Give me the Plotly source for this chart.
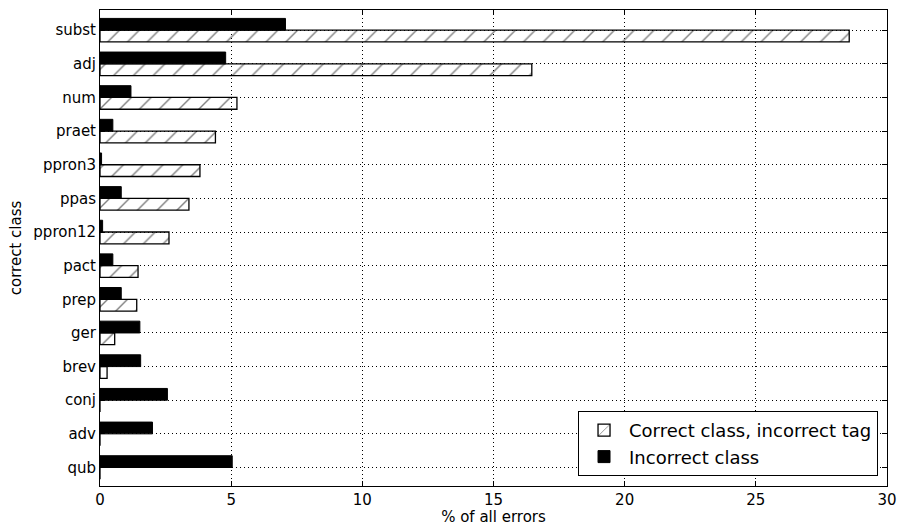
import plotly.graph_objects as go

categories = ["subst", "adj", "num", "praet", "ppron3", "ppas", "ppron12",
              "pact", "prep", "ger", "brev", "conj", "adv", "qub"]
correct_class_incorrect_tag = [28.56, 16.46, 5.22, 4.40, 3.81, 3.39, 2.63,
                               1.45, 1.40, 0.56, 0.27, 0.0, 0.0, 0.0]
incorrect_class = [7.07, 4.79, 1.18, 0.49, 0.06, 0.81, 0.10,
                   0.49, 0.81, 1.52, 1.55, 2.57, 2.00, 5.04]
x_ticks = [0, 5, 10, 15, 20, 25, 30]

fig = go.Figure()
fig.add_trace(go.Bar(
    y=categories, x=incorrect_class, orientation="h",
    name="Incorrect class", legendrank=2,
    marker=dict(color="black", line=dict(color="black", width=1)),
))
fig.add_trace(go.Bar(
    y=categories, x=correct_class_incorrect_tag, orientation="h",
    name="Correct class, incorrect tag", legendrank=1,
    marker=dict(color="white", line=dict(color="black", width=1.3),
                pattern=dict(shape="/", fgcolor="black", bgcolor="rgba(255,255,255,0)",
                             size=14, solidity=0.1)),
))

axis_common = dict(
    showline=True, linecolor="black", linewidth=1, mirror="allticks",
    ticks="inside", ticklen=5, tickcolor="black",
    showgrid=True, gridcolor="black", griddash="1px,3px", gridwidth=1,
    zeroline=False, automargin=False,
    tickfont=dict(family="DejaVu Sans", size=15, color="black"),
)

fig.update_layout(
    width=899, height=526,
    margin=dict(l=100, r=12, t=10, b=40),
    paper_bgcolor="white", plot_bgcolor="white",
    barmode="group", bargap=0.3, bargroupgap=0,
    font=dict(family="DejaVu Sans", size=15, color="black"),
    xaxis=dict(range=[0, 30], tickvals=x_ticks,
               title=dict(text="% of all errors", standoff=4,
                          font=dict(family="DejaVu Sans", size=15)),
               **axis_common),
    yaxis=dict(range=[13.55, -0.6], type="category",
               categoryorder="array", categoryarray=categories,
               title=dict(text="correct class", standoff=8,
                          font=dict(family="DejaVu Sans", size=15)),
               **axis_common),
    legend=dict(x=0.9886, y=0.021, xanchor="right", yanchor="bottom",
                bgcolor="white", bordercolor="black", borderwidth=1,
                font=dict(family="DejaVu Sans", size=18, color="black"),
                itemwidth=40, traceorder="normal"),
    showlegend=True,
)

fig.write_html("out.html",
               config={"displayModeBar": False},
               post_script="document.body.style.margin='0';document.body.style.overflow='hidden';")
